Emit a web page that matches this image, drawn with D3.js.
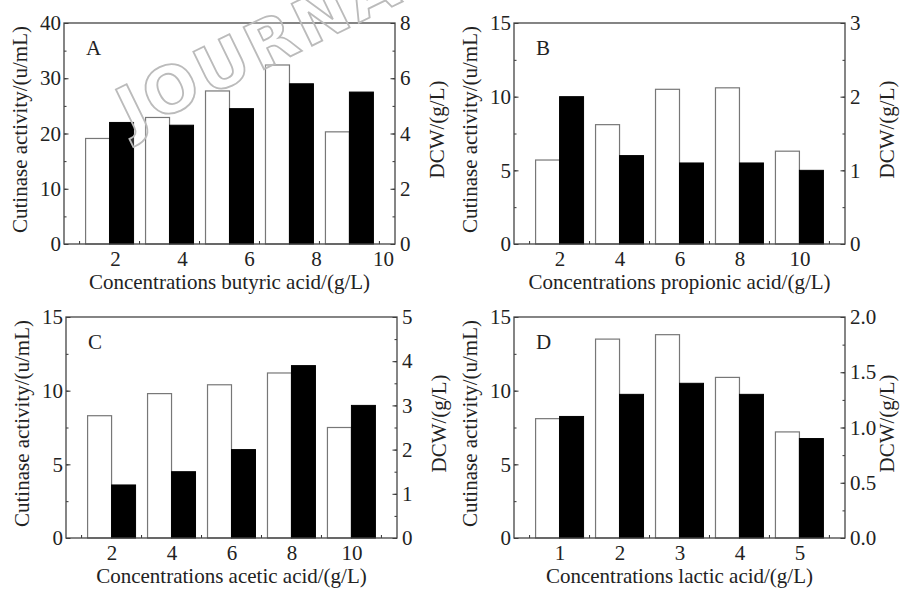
<!DOCTYPE html>
<html lang="en">
<head>
  <meta charset="UTF-8" />
  <title>Cutinase activity and DCW vs organic acid concentration</title>
  <script src="https://d3js.org/d3.v7.min.js"></script>
  <style>
    body { margin: 0; background: #fff; }
    svg { display: block; font-family: "Liberation Serif", "Times New Roman", serif; }
    .axis path { display: none; }
    .axis line { stroke: #333; stroke-width: 1; }
    .axis text { font-size: 21px; fill: #222; font-family: "Liberation Serif", serif; }
    .frame { fill: none; stroke: #444; stroke-width: 1.3; }
    .title { font-size: 21px; fill: #222; }
  </style>
</head>
<body>
<svg id="chart" width="905" height="589"></svg>
<script>
// ---- data ----
const butyricConc = [2, 4, 6, 8, 10];
const butyricCutinase = [19.1, 22.9, 27.7, 32.4, 20.3];
const butyricDCW = [4.4, 4.3, 4.9, 5.8, 5.5];

const propionicConc = [2, 4, 6, 8, 10];
const propionicCutinase = [5.7, 8.1, 10.5, 10.6, 6.3];
const propionicDCW = [2.0, 1.2, 1.1, 1.1, 1.0];

const aceticConc = [2, 4, 6, 8, 10];
const aceticCutinase = [8.3, 9.8, 10.4, 11.2, 7.5];
const aceticDCW = [1.2, 1.5, 2.0, 3.9, 3.0];

const lacticConc = [1, 2, 3, 4, 5];
const lacticCutinase = [8.1, 13.5, 13.8, 10.9, 7.2];
const lacticDCW = [1.1, 1.3, 1.4, 1.3, 0.9];

const leftTicksA = [0, 10, 20, 30, 40], rightTicksA = [0, 2, 4, 6, 8];
const leftTicksB = [0, 5, 10, 15],     rightTicksB = [0, 1, 2, 3];
const leftTicksC = [0, 5, 10, 15],     rightTicksC = [0, 1, 2, 3, 4, 5];
const leftTicksD = [0, 5, 10, 15],     rightTicksD = [0, 0.5, 1.0, 1.5, 2.0];

const svg = d3.select("#chart");

const panels = [
  { id: "A", left: 64, top: 23, conc: butyricConc, cut: butyricCutinase, dcw: butyricDCW,
    lt: leftTicksA, rt: rightTicksA, lMinor: 5, rMinor: 1, rFmt: d3.format("d"),
    xlabel: "Concentrations butyric acid/(g/L)", labelRange: [51, 319] },
  { id: "B", left: 514, top: 23, conc: propionicConc, cut: propionicCutinase, dcw: propionicDCW,
    lt: leftTicksB, rt: rightTicksB, lMinor: 2.5, rMinor: 0.5, rFmt: d3.format("d"),
    xlabel: "Concentrations propionic acid/(g/L)" },
  { id: "C", left: 66, top: 317, conc: aceticConc, cut: aceticCutinase, dcw: aceticDCW,
    lt: leftTicksC, rt: rightTicksC, lMinor: 2.5, rMinor: 0.5, rFmt: d3.format("d"),
    xlabel: "Concentrations acetic acid/(g/L)" },
  { id: "D", left: 514, top: 317, conc: lacticConc, cut: lacticCutinase, dcw: lacticDCW,
    lt: leftTicksD, rt: rightTicksD, lMinor: 2.5, rMinor: 0.25, rFmt: d3.format(".1f"),
    xlabel: "Concentrations lactic acid/(g/L)" }
];

const W = 331, H = 221;

panels.forEach(p => {
  const g = svg.append("g").attr("transform", `translate(${p.left},${p.top})`);
  const lMax = d3.max(p.lt), rMax = d3.max(p.rt);

  const x = d3.scaleBand().domain(p.conc).range([0, W]).paddingInner(0.2).paddingOuter(0.36);
  const half = x.bandwidth() / 2;
  const yL = d3.scaleLinear().domain([0, lMax]).range([H, 0]);
  const yR = d3.scaleLinear().domain([0, rMax]).range([H, 0]);

  const rows = p.conc.map((c, i) => ({ c, cut: p.cut[i], dcw: p.dcw[i] }));

  // white bars: cutinase activity (left axis)
  g.selectAll(".wbar").data(rows).join("rect")
    .attr("class", "wbar")
    .attr("x", d => x(d.c))
    .attr("y", d => yL(d.cut))
    .attr("width", half)
    .attr("height", d => H - yL(d.cut))
    .attr("fill", "#fff").attr("stroke", "#777").attr("stroke-width", 1.2);

  // black bars: DCW (right axis)
  g.selectAll(".bbar").data(rows).join("rect")
    .attr("class", "bbar")
    .attr("x", d => x(d.c) + half)
    .attr("y", d => yR(d.dcw))
    .attr("width", half)
    .attr("height", d => H - yR(d.dcw))
    .attr("fill", "#000").attr("stroke", "#000").attr("stroke-width", 1);

  // minor ticks
  const lMinorVals = d3.range(0, lMax + 1e-9, p.lMinor);
  const rMinorVals = d3.range(0, rMax + 1e-9, p.rMinor);
  g.append("g").attr("class", "axis")
    .call(d3.axisLeft(yL).tickValues(lMinorVals).tickSizeInner(-2.5).tickSizeOuter(0).tickFormat(""));
  g.append("g").attr("class", "axis").attr("transform", `translate(${W},0)`)
    .call(d3.axisRight(yR).tickValues(rMinorVals).tickSizeInner(-2.5).tickSizeOuter(0).tickFormat(""));

  // major ticks + labels
  g.append("g").attr("class", "axis")
    .call(d3.axisLeft(yL).tickValues(p.lt).tickSizeInner(-4.5).tickSizeOuter(0).tickPadding(3));
  g.append("g").attr("class", "axis").attr("transform", `translate(${W},0)`)
    .call(d3.axisRight(yR).tickValues(p.rt).tickSizeInner(-4.5).tickSizeOuter(0).tickPadding(5).tickFormat(p.rFmt));

  // x tick marks between groups
  const gap = x.step() * x.paddingInner();
  const bounds = p.conc.map(c => x(c) - gap / 2).concat([x(p.conc[p.conc.length - 1]) + x.bandwidth() + gap / 2]);
  g.selectAll(".xt").data(bounds).join("line")
    .attr("class", "xt")
    .attr("x1", d => d).attr("x2", d => d)
    .attr("y1", H).attr("y2", H - 3)
    .attr("stroke", "#333");

  // x labels
  const lx = p.labelRange
    ? d3.scalePoint().domain(p.conc).range(p.labelRange)
    : d3.scalePoint().domain(p.conc).range([x(p.conc[0]) + half, x(p.conc[p.conc.length - 1]) + half]);
  g.append("g").attr("class", "axis").attr("transform", `translate(0,${H})`)
    .call(d3.axisBottom(lx).tickSize(0).tickPadding(7));

  // frame
  g.append("rect").attr("class", "frame").attr("width", W).attr("height", H);

  // titles
  g.append("text").attr("class", "title")
    .attr("x", W / 2).attr("y", H + 45)
    .attr("text-anchor", "middle")
    .text(p.xlabel);
  g.append("text").attr("class", "title")
    .attr("transform", `translate(-37,${H / 2 - 4}) rotate(-90)`)
    .attr("text-anchor", "middle")
    .text("Cutinase activity/(u/mL)");
  g.append("text").attr("class", "title")
    .attr("transform", `translate(${W + 49},${H / 2 - 4}) rotate(-90)`)
    .attr("text-anchor", "middle")
    .text("DCW/(g/L)");

  // panel letter
  g.append("text").attr("class", "title")
    .attr("x", 22).attr("y", 32)
    .text(p.id);
});

// watermark across panel A, drawn on top and semi-transparent
svg.append("text")
  .attr("transform", "translate(131,134) rotate(-26)")
  .attr("font-family", "DejaVu Sans")
  .attr("font-weight", "bold")
  .attr("font-size", 64)
  .attr("letter-spacing", 4)
  .attr("fill", "#fff")
  .attr("fill-opacity", 0.2)
  .attr("stroke", "#bbb")
  .attr("stroke-width", 1.8)
  .text("JOURNAL");
</script>
</body>
</html>
